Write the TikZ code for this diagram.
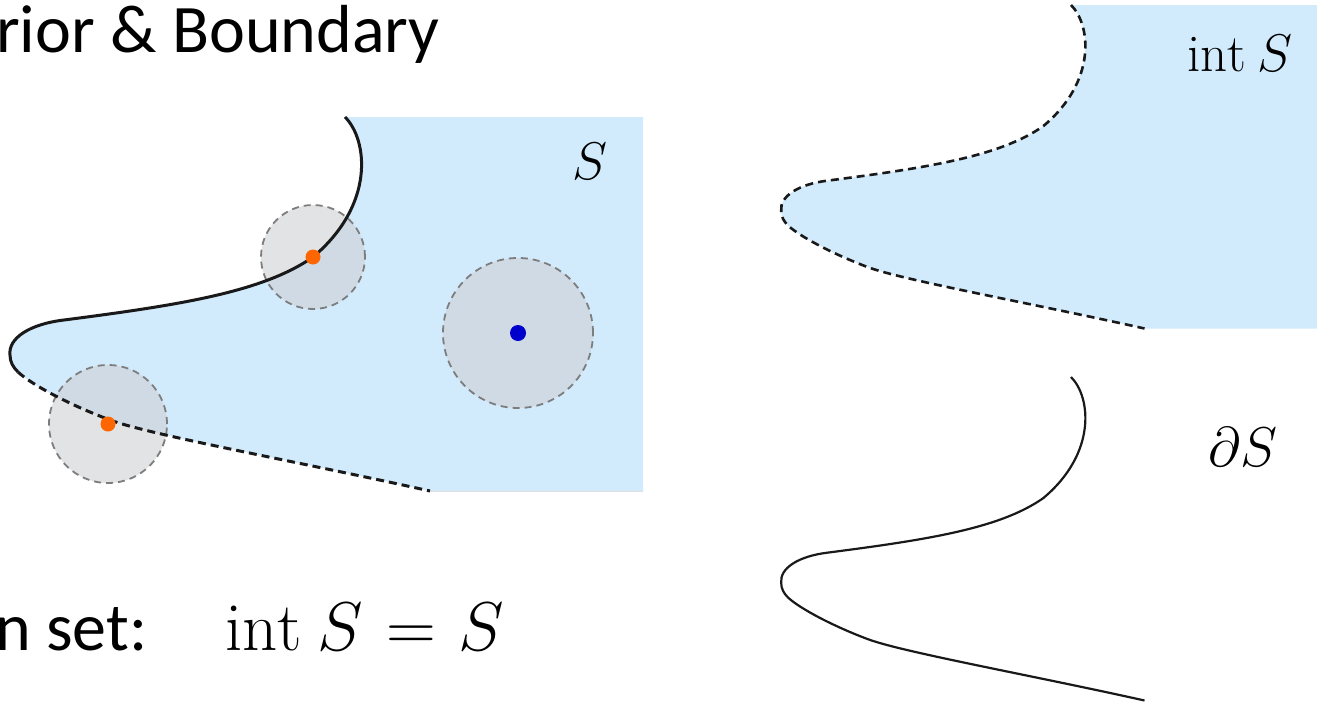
\RequirePackage{fix-cm}
\documentclass[tikz,border=0pt]{standalone}
\usepackage{fontspec}
\newfontfamily\calibri{Carlito}
\definecolor{setblue}{RGB}{209,235,252}
\definecolor{ballfill}{RGB}{207,208,212}
\definecolor{ballline}{RGB}{125,125,125}
\definecolor{dotorange}{RGB}{255,102,0}
\definecolor{dotblue}{RGB}{0,0,205}
\definecolor{curveblack}{RGB}{25,25,25}
\begin{document}
\begin{tikzpicture}[x=1pt,y=-1pt,
  ball/.style={circle, inner sep=0pt, fill=ballfill, fill opacity=0.6, draw=ballline, draw opacity=1, line width=1.8pt, dash pattern=on 7pt off 5pt},
  ptdot/.style={circle, inner sep=0pt, minimum size=15pt},
  bdsolid/.style={draw=curveblack, line width=3pt},
  bddash/.style={draw=curveblack, line width=3pt, dash pattern=on 8pt off 5pt},
  rdash/.style={draw=curveblack, line width=2.6pt, dash pattern=on 8pt off 5pt},
  rsolid/.style={draw=curveblack, line width=2.2pt},
  mathlabel/.style={inner sep=0pt, anchor=base, font=\fontsize{53}{60}\selectfont},
  bigmath/.style={inner sep=0pt, anchor=base west, font=\fontsize{69}{72}\selectfont},
  slidetext/.style={inner sep=0pt, anchor=base west, font=\calibri\fontsize{68}{72}\selectfont}]
\useasboundingbox (0,0) rectangle (1317,704);

% ---- left figure: set S ----
\fill[setblue] (345,117) .. controls (368,140) and (375,205) .. (313,257)
  .. controls (263,292) and (180,305) .. (64,320)
  .. controls (30,324) and (8,338) .. (10,355)
  .. controls (10,362) and (13,367) .. (18,372)
  .. controls (32,385) and (70,405) .. (110,420)
  .. controls (150,435) and (300,462) .. (430,491)
  -- (643,491) -- (643,117) -- cycle;
\draw[gray!25, line width=1pt] (430,491.5) -- (643,491.5);

\node[ball, minimum size=104pt] (b1) at (313,257) {};
\node[ball, minimum size=150pt] (b2) at (518,333) {};
\node[ball, minimum size=118pt] (b3) at (108,424) {};

\draw[bdsolid] (345,117) .. controls (368,140) and (375,205) .. (313,257)
  .. controls (263,292) and (180,305) .. (64,320)
  .. controls (30,324) and (8,338) .. (10,355)
  .. controls (10,362) and (13,367) .. (18,372);
\draw[bddash] (18,372) .. controls (32,385) and (70,405) .. (110,420)
  .. controls (150,435) and (300,462) .. (430,491);

\node[ptdot, fill=dotorange] (p1) at (b1.center) {};
\node[ptdot, fill=dotblue, minimum size=16pt] (p2) at (b2.center) {};
\node[ptdot, fill=dotorange] (p3) at (b3.center) {};

\node[mathlabel] (lS) at (590,179) {$S$};

% ---- right top: interior ----
\fill[setblue] (1071,5) .. controls (1090.9,24.9) and (1097.0,81.1) .. (1043.3,126.1)
  .. controls (1000.1,156.4) and (928.3,167.6) .. (827.9,180.6)
  .. controls (798.5,184.1) and (779.5,196.2) .. (781.2,210.9)
  .. controls (781.2,216.9) and (783.8,221.3) .. (788.1,225.6)
  .. controls (800.3,236.8) and (833.1,254.1) .. (867.7,267.1)
  .. controls (902.3,280.1) and (1032.1,303.4) .. (1144.5,328.5)
  -- (1317,328.5) -- (1317,5) -- cycle;
\draw[rdash] (1071,5) .. controls (1090.9,24.9) and (1097.0,81.1) .. (1043.3,126.1)
  .. controls (1000.1,156.4) and (928.3,167.6) .. (827.9,180.6)
  .. controls (798.5,184.1) and (779.5,196.2) .. (781.2,210.9)
  .. controls (781.2,216.9) and (783.8,221.3) .. (788.1,225.6)
  .. controls (800.3,236.8) and (833.1,254.1) .. (867.7,267.1)
  .. controls (902.3,280.1) and (1032.1,303.4) .. (1144.5,328.5);
\node[mathlabel] (lint) at (1240,71) {$\mathrm{int}\mskip4mu S$};

% ---- right bottom: boundary ----
\draw[rsolid] (1071,377) .. controls (1090.9,396.9) and (1097.0,453.1) .. (1043.3,498.1)
  .. controls (1000.1,528.4) and (928.3,539.6) .. (827.9,552.6)
  .. controls (798.5,556.1) and (779.5,568.2) .. (781.2,582.9)
  .. controls (781.2,588.9) and (783.8,593.3) .. (788.1,597.6)
  .. controls (800.3,608.8) and (833.1,626.1) .. (867.7,639.1)
  .. controls (902.3,652.1) and (1032.1,675.4) .. (1144.5,700.5);
\node[mathlabel, font=\fontsize{56}{60}\selectfont] (lbd) at (1243,466) {$\partial S$};

% ---- slide text ----
\node[slidetext] (title) at (-4,52) {rior \& Boundary};
\node[slidetext] (open) at (-5,650) {n set:};
\node[bigmath] (eq) at (225,650) {$\mathrm{int}\mskip4mu S \mskip1mu=\mskip1mu S$};
\end{tikzpicture}
\end{document}
